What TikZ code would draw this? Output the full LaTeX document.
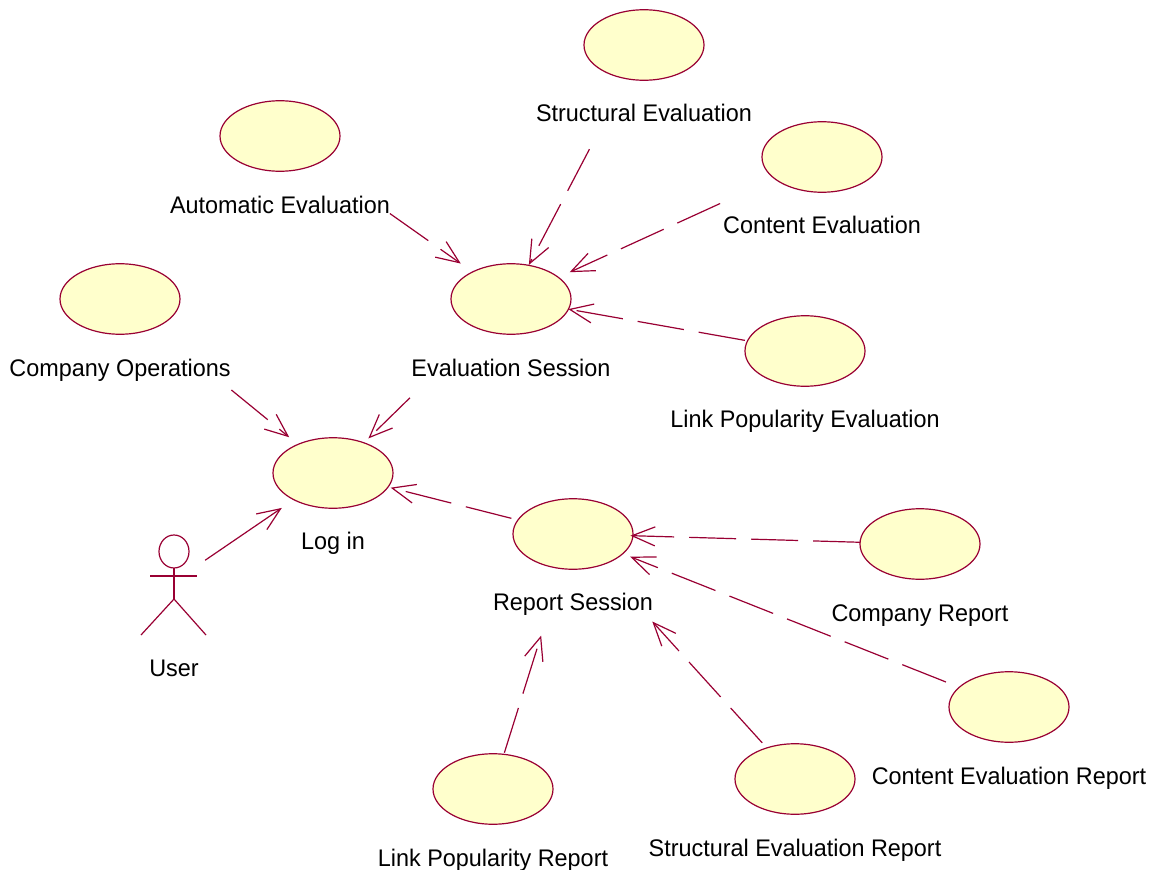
\documentclass[tikz,border=0pt]{standalone}
\usepackage{fontspec}
\setmainfont[FakeStretch=0.975]{Liberation Sans}
\usetikzlibrary{arrows.meta,shapes.geometric}
\definecolor{umlline}{HTML}{990033}
\definecolor{umlfill}{HTML}{FFFFCC}
\tikzset{
  x=1pt,y=-1pt,
  usecase/.style={draw=umlline,fill=umlfill,line width=1.2pt,ellipse,minimum width=120pt,minimum height=70.5pt,inner sep=0pt,outer sep=0pt},
  usecaselabel/.style={anchor=base,inner sep=0pt,outer sep=0pt,font=\fontsize{24}{28}\selectfont,text=black},
  depends/.style={draw=umlline,line width=1.2pt,dash pattern=on 47pt off 15pt,-{Straight Barb[length=23pt,width=19pt,line width=1.2pt]}},
  assoc/.style={draw=umlline,line width=1.2pt,-{Straight Barb[length=23pt,width=19pt,line width=1.2pt]}},
  actorline/.style={draw=umlline,line width=1.2pt},
}
\begin{document}
\begin{tikzpicture}
\useasboundingbox (0,0) rectangle (1163,870);
\node[usecase] (struct) at (644,45) {};
\node[usecase] (auto) at (280,136) {};
\node[usecase] (content) at (822,157) {};
\node[usecase] (eval) at (511,299) {};
\node[usecase] (comp) at (120,299) {};
\node[usecase] (link) at (805,351) {};
\node[usecase] (login) at (333,473) {};
\node[usecase] (report) at (573,534) {};
\node[usecase] (compR) at (920,544) {};
\node[usecase] (contentR) at (1009,707) {};
\node[usecase] (structR) at (795,779) {};
\node[usecase] (linkR) at (493,789) {};
\node[usecaselabel] (structL) at (644,121) {Structural Evaluation};
\node[usecaselabel] (autoL) at (280,213) {Automatic Evaluation};
\node[usecaselabel] (contentL) at (822,233) {Content Evaluation};
\node[usecaselabel] (compL) at (120,376) {Company Operations};
\node[usecaselabel] (evalL) at (511,376) {Evaluation Session};
\node[usecaselabel] (linkL) at (805,427) {Link Popularity Evaluation};
\node[usecaselabel] (loginL) at (333,549) {Log in};
\node[usecaselabel] (userL) at (174,676) {User};
\node[usecaselabel] (reportL) at (573,610) {Report Session};
\node[usecaselabel] (compRL) at (920,621) {Company Report};
\node[usecaselabel] (contentRL) at (1009,784) {Content Evaluation Report};
\node[usecaselabel] (structRL) at (795,856) {Structural Evaluation Report};
\node[usecaselabel] (linkRL) at (493,866) {Link Popularity Report};
% actor
\node[draw=umlline,line width=1.2pt,ellipse,minimum width=30pt,minimum height=33pt,inner sep=0pt,outer sep=0pt] (head) at (174,551.5) {};
\coordinate (hip) at (174,599);
\coordinate (armL) at (150,576);
\coordinate (armR) at (197,576);
\coordinate (footL) at (141,635);
\coordinate (footR) at (206,635);
\coordinate (actor) at (174,581.5);
\draw[actorline] (head.south) -- (hip);
\draw[actorline] (armL) -- (armR);
\draw[actorline] (footL) -- (hip) -- (footR);
% connectors
\draw[depends,shorten <=134.5pt,shorten >=61.5pt] (auto.center) -- (eval.center);
\draw[depends,shorten <=117.6pt,shorten >=38.5pt] (struct.center) -- (eval.center);
\draw[depends,shorten <=112pt,shorten >=64.5pt] (content.center) -- (eval.center);
\draw[depends,shorten <=61pt,shorten >=58.2pt] (link.center) -- (eval.center);
\draw[depends,shorten <=143.8pt,shorten >=56.5pt] (comp.center) -- (login.center);
\draw[depends,shorten <=141.4pt,shorten >=49.5pt] (eval.center) -- (login.center);
\draw[depends,shorten <=63.6pt,shorten >=59.5pt] (report.center) -- (login.center);
\draw[assoc,shorten <=37.7pt,shorten >=62pt] (actor) -- (login.center);
\draw[depends,shorten <=60pt,shorten >=57.5pt] (compR.center) -- (report.center);
\draw[depends,shorten <=67.8pt,shorten >=61.5pt] (contentR.center) -- (report.center);
\draw[depends,shorten <=48.8pt,shorten >=118.1pt] (structR.center) -- (report.center);
\draw[depends,shorten <=38pt,shorten >=106.4pt] (linkR.center) -- (report.center);
\end{tikzpicture}
\end{document}
